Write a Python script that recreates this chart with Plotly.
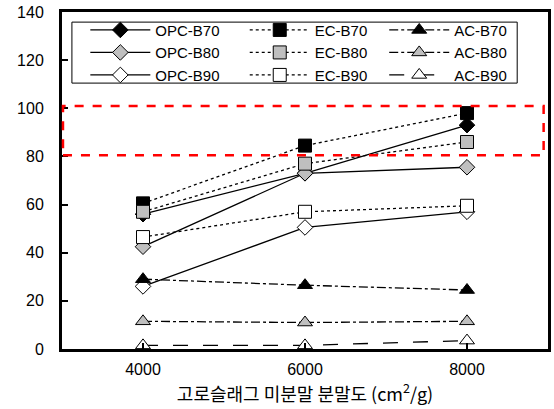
import plotly.graph_objects as go

x_vals = [4000, 6000, 8000]
series_names = ["OPC-B70", "OPC-B80", "OPC-B90",
                "EC-B70", "EC-B80", "EC-B90",
                "AC-B70", "AC-B80", "AC-B90"]
opc_b70 = [56, 73, 93]
opc_b80 = [42.5, 73, 75.5]
opc_b90 = [26, 50.5, 57]
ec_b70 = [60.5, 84.5, 98]
ec_b80 = [57, 77, 86]
ec_b90 = [46.5, 57, 59.5]
ac_b70 = [29, 26.5, 24.5]
ac_b80 = [11.5, 11, 11.5]
ac_b90 = [1.5, 1.5, 3.5]
x_ticks = [4000, 6000, 8000]
y_ticks = [0, 20, 40, 60, 80, 100, 120, 140]

values = {
    "OPC-B70": opc_b70, "OPC-B80": opc_b80, "OPC-B90": opc_b90,
    "EC-B70": ec_b70, "EC-B80": ec_b80, "EC-B90": ec_b90,
    "AC-B70": ac_b70, "AC-B80": ac_b80, "AC-B90": ac_b90,
}
fills = {"70": "black", "80": "#bfbfbf", "90": "white"}
legend_of = {"OPC": "legend", "EC": "legend2", "AC": "legend3"}

fig = go.Figure()
for name in series_names:
    grp, b = name.split("-B")
    fill = fills[b]
    if grp == "OPC":
        sym, dash, size = "diamond", "solid", 12
    elif grp == "EC":
        sym, dash, size = "square", "dot", 13
    else:
        sym, size = "triangle-up", 13
        dash = "longdash" if b == "90" else "dashdot"
    fig.add_trace(go.Scatter(
        x=x_vals, y=values[name], name=name, mode="lines+markers",
        legend=legend_of[grp],
        line=dict(color="black", width=1.3, dash=dash),
        marker=dict(symbol=sym, size=size, color=fill,
                    line=dict(color="black", width=1)),
    ))

# legend frame
fig.add_shape(type="rect", xref="paper", yref="paper", x0=0.0204, x1=0.9366,
              y0=0.789, y1=0.970, line=dict(color="black", width=1),
              fillcolor="white", layer="above")
# red dashed highlight box
fig.add_shape(type="rect", xref="paper", yref="y", x0=0.002, x1=0.991,
              y0=80.5, y1=101, line=dict(color="red", width=2.5, dash="dash"),
              fillcolor="rgba(0,0,0,0)")

font_main = "Liberation Sans, Arial, Noto Sans CJK KR, sans-serif"
leg_common = dict(orientation="v", yanchor="top", xanchor="left", y=0.995,
                  bgcolor="rgba(0,0,0,0)", borderwidth=0, itemwidth=60,
                  font=dict(size=15, family=font_main), tracegroupgap=0)
fig.update_layout(
    width=554, height=409,
    margin=dict(l=62, r=3, t=12, b=60),
    paper_bgcolor="white", plot_bgcolor="white",
    font=dict(family=font_main, size=16, color="black"),
    showlegend=True,
    legend=dict(x=0.048, **leg_common),
    legend2=dict(x=0.376, **leg_common),
    legend3=dict(x=0.663, **leg_common),
    xaxis=dict(range=[3000, 9000], tickvals=x_ticks, showgrid=False, zeroline=False,
               showline=True, linecolor="black", linewidth=3, mirror=True,
               ticks="inside", ticklen=6, tickwidth=1.5, tickcolor="black",
               tickfont=dict(size=16), ticklabelstandoff=4,
               title=dict(text="고로슬래그 미분말 분말도 (cm<sup>2</sup>/g)",
                          font=dict(family="Noto Sans CJK KR, sans-serif", size=18),
                          standoff=2)),
    yaxis=dict(range=[0, 140], tickvals=y_ticks, showgrid=False, zeroline=False,
               showline=True, linecolor="black", linewidth=3, mirror=True,
               ticks="inside", ticklen=6, tickwidth=1.5, tickcolor="black",
               tickfont=dict(size=16), ticklabelstandoff=12),
)

fig.write_html("out.html", config={"displayModeBar": False},
               post_script="document.body.style.margin='0';")
